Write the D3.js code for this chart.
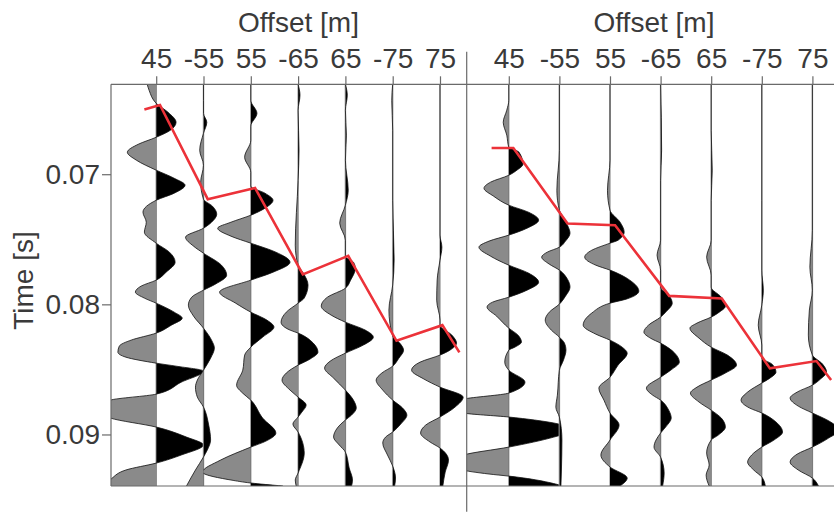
<!DOCTYPE html>
<html><head><meta charset="utf-8">
<script src="https://cdn.jsdelivr.net/npm/d3@7"></script>
<style>html,body{margin:0;padding:0;background:#fff;} svg{display:block;}</style>
</head><body><svg id="c" width="834" height="513"></svg>
<script>
// ---- data ----
const offsetLabels = ["45","-55","55","-65","65","-75","75"];
const timeTicks = [70, 80, 90];               // ms
const timeTickLabels = ["0.07","0.08","0.09"]; // s
// each trace: [time (ms), amplitude (in trace spacings)]
const leftTraces = [
 [[63.09,-0.19],[63.55,-0.15],[64.55,0],[65.24,0.25],[66.01,0.42],[66.62,0.30],[67.16,0],[67.70,-0.38],[68.31,-0.61],[68.92,-0.42],[69.69,0],[70.31,0.38],[70.84,0.61],[71.46,0.38],[72.00,0],[72.92,-0.28],[73.69,-0.21],[74.45,-0.25],[75.30,0],[75.99,0.28],[76.76,0.40],[77.53,0.21],[78.14,0],[78.60,-0.32],[79.06,-0.44],[79.52,-0.25],[79.91,0],[80.60,0.38],[81.06,0.55],[81.60,0.32],[82.21,0],[82.75,-0.53],[83.21,-0.78],[83.67,-0.81],[84.06,-0.64],[84.52,0],[84.75,0.42],[85.13,1.0],[85.98,0.53],[86.90,0],[87.36,-0.97],[88.05,-1.27],[88.74,-0.97],[89.43,0],[90.20,0.64],[90.81,1.0],[91.58,0.53],[92.20,0],[92.73,-0.64],[93.35,-0.93],[93.96,-1.06]],
 [[63.09,0],[64.32,0],[65.32,0],[66.01,0.07],[66.85,0],[68.16,-0.08],[69.31,0],[70.61,-0.06],[71.92,0],[72.46,0.19],[73.07,0.28],[73.69,0.17],[74.15,0],[74.84,-0.38],[75.53,-0.21],[76.07,0],[76.99,0.38],[77.76,0.49],[78.45,0.25],[78.91,0],[79.45,-0.25],[80.06,-0.32],[80.91,-0.21],[81.83,0],[82.75,0.17],[83.36,0.23],[84.14,0.15],[85.06,0],[85.82,-0.13],[86.36,-0.17],[87.13,-0.13],[87.89,0],[89.28,0.11],[90.43,0.15],[91.20,0.08],[91.73,0],[92.73,-0.17],[93.96,-0.36]],
 [[63.09,0],[64.32,0],[65.32,0.13],[66.31,0],[67.39,0],[68.69,-0.13],[69.85,0],[70.92,0],[71.46,0.30],[72.00,0.47],[72.61,0.30],[73.15,0],[73.69,-0.42],[74.15,-0.70],[74.76,-0.42],[75.30,0],[75.99,0.53],[76.76,0.83],[77.53,0.47],[78.14,0],[79.06,-0.66],[79.91,-0.32],[80.60,0],[81.21,0.34],[81.75,0.49],[82.52,0.25],[83.29,0],[83.90,-0.13],[85.06,-0.17],[86.22,-0.30],[86.83,-0.17],[87.36,0],[88.74,0.25],[89.89,0.53],[90.51,0.32],[90.97,0],[91.97,-0.64],[92.89,-1.02],[93.50,-0.42],[93.73,0],[93.96,0.68]],
 [[63.09,0],[63.93,0.04],[65.08,0],[68.16,0.02],[70.46,0],[75.45,-0.06],[76.99,0],[77.60,0.11],[78.52,0.21],[79.52,0.13],[79.91,0],[80.60,-0.25],[81.37,-0.36],[81.98,-0.17],[82.21,0],[82.98,0.32],[83.67,0.42],[84.21,0.25],[84.67,0],[85.28,-0.25],[85.82,-0.34],[86.59,-0.17],[87.13,0],[87.74,0.17],[88.28,0.08],[88.66,0],[89.20,-0.11],[89.81,0],[91.43,0.13],[92.97,0],[93.50,-0.06],[93.96,-0.04]],
 [[63.09,0],[63.93,0.04],[65.08,0],[67.00,0.02],[68.92,0],[71.23,0.06],[72.38,0],[73.76,-0.12],[75.07,0],[76.30,0],[76.76,0.17],[77.22,0.21],[78.14,0.11],[78.76,0],[79.45,-0.38],[80.14,-0.51],[80.83,-0.30],[81.37,0],[81.98,0.42],[82.52,0.59],[83.13,0.38],[83.75,0],[84.36,-0.32],[84.90,-0.44],[85.67,-0.25],[86.59,0],[87.36,0.17],[87.97,0.23],[88.51,0.13],[88.89,0],[89.50,-0.17],[90.20,-0.25],[90.81,-0.13],[91.35,0],[92.58,0.08],[93.50,0.15],[93.96,0.13]],
 [[63.09,0],[64.32,-0.02],[66.62,0],[72.00,0],[76.60,0.03],[78.52,0],[80.44,-0.08],[82.44,0],[82.98,0.15],[83.52,0.23],[84.14,0.13],[84.75,0],[85.28,-0.23],[85.82,-0.35],[86.59,-0.21],[87.36,0],[87.97,0.21],[88.51,0.30],[89.20,0.17],[89.81,0],[90.20,-0.15],[90.66,-0.21],[91.58,-0.11],[92.43,0],[93.35,0.06],[93.96,0.04]],
 [[63.09,0],[68.16,0],[74.68,0],[75.61,0.04],[76.60,0],[78.14,-0.06],[79.68,-0.07],[81.21,0],[81.60,0],[82.36,0.25],[82.98,0.35],[83.52,0.21],[83.90,0],[84.44,-0.42],[85.06,-0.60],[85.74,-0.34],[86.36,0],[87.13,0.49],[87.89,0.32],[88.66,0],[89.27,-0.30],[89.89,-0.41],[90.58,-0.21],[91.04,0],[91.97,0.18],[92.89,0.11],[93.96,0.06]]
];
const rightTraces = [
 [[63.09,0],[64.32,0],[65.08,-0.04],[66.01,-0.11],[67.00,-0.04],[67.93,0],[68.30,0.2],[69.23,0.28],[69.69,0.16],[70.08,0],[70.61,-0.36],[71.08,-0.49],[71.69,-0.30],[72.38,0],[72.92,0.39],[73.53,0.59],[74.15,0.36],[74.68,0],[75.14,-0.39],[75.61,-0.59],[76.30,-0.36],[76.99,0],[77.60,0.39],[78.30,0.59],[78.91,0.36],[79.45,0],[79.83,-0.32],[80.21,-0.43],[80.91,-0.24],[81.83,0],[82.36,0.18],[82.90,0.25],[83.29,0.12],[83.52,0],[84.44,-0.08],[85.06,0],[85.97,0.32],[86.82,0],[87.28,-0.89],[87.82,-1.18],[88.35,-0.89],[88.66,0],[89.12,0.89],[89.66,1.28],[90.20,0.89],[90.97,0],[91.58,-0.89],[92.35,-1.18],[93.04,-0.39],[93.20,0],[93.96,1.08]],
 [[63.09,0],[68.16,0],[71.23,-0.05],[72.77,0],[73.07,0.04],[73.92,0.16],[74.53,0.21],[75.14,0.12],[75.61,0],[75.99,-0.24],[76.37,-0.35],[76.91,-0.20],[77.37,0],[78.07,0.16],[78.68,0.21],[79.37,0.12],[79.98,0],[80.60,-0.20],[81.21,-0.28],[81.98,-0.16],[82.52,0],[82.98,0.10],[83.52,0.13],[84.29,0.08],[85.06,0],[86.98,-0.04],[87.90,-0.07],[88.66,0],[90.43,0.05],[92.73,0.04],[93.96,0.03]],
 [[63.09,0],[68.92,0],[71.23,-0.05],[72.77,0],[73.69,0.20],[74.45,0.28],[75.07,0.16],[75.30,0],[75.84,-0.36],[76.37,-0.50],[76.99,-0.28],[77.37,0],[78.14,0.39],[78.98,0.57],[79.60,0.32],[79.91,0],[80.67,-0.36],[81.60,-0.53],[82.29,-0.28],[82.75,0],[83.29,0.24],[83.75,0.34],[84.67,0.16],[85.60,0],[86.44,-0.22],[87.36,-0.12],[88.35,0],[89.28,0.18],[90.43,0],[91.58,-0.18],[92.50,0],[93.35,0.34],[93.96,0.20]],
 [[63.09,0],[68.16,0.02],[70.46,0],[75.07,0],[76.22,-0.07],[77.37,0],[78.68,0],[79.29,0.16],[79.91,0.23],[80.60,0.10],[80.98,0],[81.60,-0.24],[82.13,-0.33],[82.60,-0.20],[82.98,0],[83.75,0.28],[84.44,0.37],[85.06,0.20],[85.60,0],[86.44,-0.28],[86.97,-0.16],[87.36,0],[88.13,0.16],[88.74,0.21],[89.43,0.10],[89.89,0],[90.97,-0.13],[91.74,0],[92.97,0.07],[93.96,0.04]],
 [[63.09,0],[66.62,0],[69.69,0.02],[72.00,0],[75.07,0],[76.37,-0.09],[77.76,0],[78.68,0],[79.45,0.20],[80.14,0.28],[80.60,0.16],[80.98,0],[81.44,-0.28],[81.83,-0.42],[82.60,-0.24],[83.29,0],[83.90,0.32],[84.67,0.50],[85.28,0.28],[85.82,0],[86.36,-0.28],[86.82,-0.41],[87.51,-0.24],[88.13,0],[88.74,0.20],[89.43,0.28],[90.05,0.14],[90.43,0],[91.43,-0.09],[92.35,-0.04],[93.12,-0.10],[93.96,-0.04]],
 [[63.09,0],[72.00,0],[77.37,0],[78.91,0.03],[80.06,0],[81.60,-0.07],[83.13,0],[84.13,0],[84.59,0.20],[85.21,0.28],[85.67,0.16],[86.05,0],[86.74,-0.28],[87.36,-0.41],[87.97,-0.24],[88.35,0],[89.04,0.28],[89.81,0.41],[90.43,0.24],[90.97,0],[91.58,-0.20],[92.12,-0.28],[92.73,-0.16],[93.27,0],[93.96,0.07]],
 [[63.09,0],[74.30,0],[77.14,-0.05],[78.91,0],[80.44,-0.06],[82.36,-0.08],[83.90,0],[84.59,0.20],[85.21,0.28],[85.74,0.16],[86.21,0],[86.74,-0.30],[87.20,-0.44],[87.82,-0.28],[88.35,0],[89.04,0.36],[89.66,0.53],[90.28,0.32],[90.97,0],[91.51,-0.30],[92.12,-0.44],[92.73,-0.28],[93.35,0],[93.96,0.12]]
];
// picked arrivals: [trace position, time (ms)]
const leftPicks = [[-0.25,65.03],[0.08,64.68],[1.09,71.92],[2.09,71.05],[3.10,77.70],[4.06,76.27],[5.08,82.80],[6.05,81.60],[6.41,83.69]];
const rightPicks = [[-0.34,67.98],[0.09,67.98],[1.16,73.79],[2.10,73.92],[3.17,79.35],[4.21,79.55],[5.16,84.92],[6.08,84.36],[6.37,85.82]];

// ---- drawing ----
const svg = d3.select("#c");
const FONT = "'Liberation Sans', Arial, Helvetica, sans-serif";
const TXT = "#3a3a3a", AX = "#6a6a6a";
const T = 84.3, B = 486;
const y = d3.scaleLinear().domain([63.09, 93.96]).range([T, B]);
const panels = [
  {x: d3.scaleLinear().domain([0,6]).range([156.2,440]), L:111, R:466.7, traces:leftTraces, picks:leftPicks, titleX:298.5},
  {x: d3.scaleLinear().domain([0,6]).range([508.8,812.4]), L:466.7, R:880, traces:rightTraces, picks:rightPicks, titleX:654}
];
const defs = svg.append("defs");
let cid = 0;
function clip(x0, x1){
  const id = "cp" + (cid++);
  defs.append("clipPath").attr("id", id).append("rect")
    .attr("x", x0).attr("y", T).attr("width", Math.max(0, x1 - x0)).attr("height", B - T);
  return `url(#${id})`;
}
panels.forEach(p => {
  const g = svg.append("g");
  p.traces.forEach((tr, i) => {
    const bx = p.x(i);
    const lo = Math.max(p.L, p.x(i - 1)), hi = Math.min(p.R, p.x(i + 1));
    const data = tr.map(d => ({t: d[0], a: d[1]}));
    const area = d3.area().curve(d3.curveMonotoneY).y(d => y(d.t)).x0(bx).x1(d => p.x(i + d.a));
    const line = d3.line().curve(d3.curveMonotoneY).y(d => y(d.t)).x(d => p.x(i + d.a));
    const tg = g.append("g");
    tg.append("line").attr("x1", bx).attr("x2", bx).attr("y1", T).attr("y2", B)
      .attr("stroke", "#a8a8a8").attr("stroke-width", 1.5);
    tg.append("path").attr("d", area(data)).attr("fill", "#8a8a8a").attr("clip-path", clip(lo, bx));
    tg.append("path").attr("d", area(data)).attr("fill", "#000").attr("clip-path", clip(bx, hi));
    tg.append("path").attr("d", line(data)).attr("fill", "none").attr("stroke", "#111")
      .attr("stroke-width", 0.8).attr("clip-path", clip(lo, hi));
  });
  // picks
  svg.append("path").datum(p.picks)
    .attr("d", d3.line().x(d => p.x(d[0])).y(d => y(d[1])))
    .attr("fill", "none").attr("stroke", "#ec3239").attr("stroke-width", 2.6)
    .attr("stroke-linejoin", "miter").attr("clip-path", clip(p.L, p.R));
  // top axis
  const ax = svg.append("g").attr("transform", `translate(0,${T})`)
    .call(d3.axisTop(p.x).tickValues(d3.range(offsetLabels.length))
      .tickFormat(i => offsetLabels[i]).tickSize(8).tickPadding(8));
  ax.select(".domain").remove();
  ax.selectAll("line").attr("stroke", AX).attr("stroke-width", 1.2);
  ax.selectAll("text").attr("font-size", 28).attr("font-family", FONT).attr("fill", TXT);
  svg.append("text").attr("x", p.titleX).attr("y", 31.5).attr("text-anchor", "middle")
    .attr("font-size", 28).attr("font-family", FONT).attr("fill", TXT).text("Offset [m]");
  // frame lines
  svg.append("line").attr("x1", p.L).attr("x2", Math.min(p.R, 834)).attr("y1", T).attr("y2", T).attr("stroke", AX).attr("stroke-width", 1.2);
  svg.append("line").attr("x1", p.L).attr("x2", Math.min(p.R, 834)).attr("y1", B).attr("y2", B).attr("stroke", AX).attr("stroke-width", 1.2);
});
// left axis
const yax = svg.append("g").attr("transform", `translate(111,0)`)
  .call(d3.axisLeft(y).tickValues(timeTicks).tickFormat((d, i) => timeTickLabels[i]).tickSize(9).tickPadding(2));
yax.select(".domain").remove();
yax.selectAll("line").attr("stroke", AX).attr("stroke-width", 1.2);
yax.selectAll("text").attr("font-size", 28).attr("font-family", FONT).attr("fill", TXT);
svg.append("line").attr("x1", 111).attr("x2", 111).attr("y1", T).attr("y2", B).attr("stroke", AX).attr("stroke-width", 1.2);
svg.append("line").attr("x1", 466.7).attr("x2", 466.7).attr("y1", 51.7).attr("y2", 511.7).attr("stroke", AX).attr("stroke-width", 1.2);
svg.append("text").attr("transform", "translate(33,280.5) rotate(-90)").attr("text-anchor", "middle")
  .attr("font-size", 28).attr("font-family", FONT).attr("fill", TXT).text("Time [s]");
</script></body></html>
